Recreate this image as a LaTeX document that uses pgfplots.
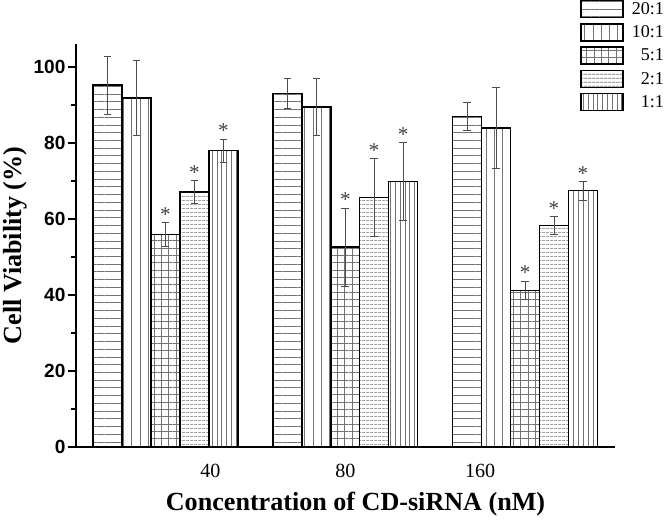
\documentclass[border=0pt]{standalone}
\usepackage{pgfplots}
\pgfplotsset{compat=1.18}
\usetikzlibrary{patterns.meta}
\usepackage{fontspec}
\setmainfont{Liberation Serif}
\newfontfamily\arialfont{Liberation Sans}

\pgfplotsset{
  cvbar/.style={ybar, bar width=0.161, bar shift=0pt, draw=black, line width=1.4pt,
    pattern color=black!55,
    legend image code/.code={\draw[##1,/tikz/.cd] (0pt,-8.5pt) rectangle (42pt,8.5pt);},
    error bars/y dir=both, error bars/y explicit,
    error bars/error bar style={line width=0.7pt, black!70},
    error bars/error mark=-,
    error bars/error mark options={rotate=90, black!70, line width=0.7pt, mark size=3.8pt}},
}

\begin{document}
\begin{tikzpicture}
\begin{axis}[
  scale only axis, width=537pt, height=401pt,
  xmin=0.5, xmax=3.5, ymin=0, ymax=106,
  axis x line*=bottom, axis y line*=left,
  axis line style={line width=1.8pt},
  xtick={1.25,2,2.75}, xticklabels={40,80,160},
  xtick style={draw=none},
  ytick={0,20,...,100}, minor ytick={10,30,...,90},
  tick align=outside,
  ytick style={line width=1.5pt, black},
  major tick length=8pt, minor tick length=5pt,
  /pgf/number format/assume math mode=true,
  yticklabel style={font=\arialfont\bfseries\fontsize{19}{19}\selectfont, inner sep=2pt},
  xticklabel style={font=\fontsize{20}{20}\selectfont, yshift=-6pt},
  xlabel={Concentration of CD-siRNA (nM)},
  ylabel={Cell Viability (\%)},
  every axis x label/.style={at={(axis description cs:0.519,-0.142)}, anchor=center,
    font=\bfseries\fontsize{26}{26}\selectfont},
  every axis y label/.style={at={(axis description cs:-0.112,0.5)}, rotate=90, anchor=center,
    font=\bfseries\fontsize{26}{26}\selectfont},
  legend style={draw=none, fill=none, at={(axis description cs:1.095,1.11)}, anchor=north east,
    inner sep=0pt, row sep=4.7pt, font=\fontsize{18}{18}\selectfont,
    /tikz/every odd column/.append style={column sep=6pt}},
  legend cell align=right,
  clip=false,
]
% 20:1
\addplot[cvbar, pattern={Lines[angle=0,distance=7.7pt,line width=0.8pt]}]
  coordinates {(0.678,95.2) +- (0,7.6) (1.678,93.0) +- (0,4.0) (2.678,87.0) +- (0,3.6)};
% 10:1
\addplot[cvbar, pattern={Lines[angle=90,distance=8.2pt,line width=0.8pt]}]
  coordinates {(0.839,91.8) +- (0,9.8) (1.839,89.4) +- (0,7.5) (2.839,83.9) +- (0,10.6)};
% 5:1
\addplot[cvbar, pattern={Hatch[angle=0,distance=7.3pt,line width=0.7pt]}]
  coordinates {(1,55.9) +- (0,3.2) (2,52.6) +- (0,10.3) (3,41.2) +- (0,2.4)};
% 2:1
\addplot[cvbar, pattern={Lines[angle=0,distance=4pt,line width=0.8pt]}]
  coordinates {(1.161,67.1) +- (0,3.0) (2.161,65.6) +- (0,10.2) (3.161,58.3) +- (0,2.4)};
% 1:1
\addplot[cvbar, pattern={Lines[angle=90,distance=4.8pt,line width=0.8pt]}]
  coordinates {(1.322,78.0) +- (0,3.0) (2.322,69.8) +- (0,10.3) (3.322,67.4) +- (0,2.4)};
% significance marks at the top of the error bars
\addplot[draw=none, mark=none, forget plot, point meta=y, nodes near coords={*},
  every node near coord/.append style={anchor=south, inner sep=0pt, yshift=1pt,
    text=black!75, font=\fontsize{21}{21}\selectfont}]
  coordinates {(1,59.1) (1.161,70.1) (1.322,81.0)
               (2,62.9) (2.161,75.8) (2.322,80.1)
               (3,43.6) (3.161,60.7) (3.322,69.8)};
\legend{20:1,10:1,5:1,2:1,1:1}
\end{axis}
\end{tikzpicture}
\end{document}
